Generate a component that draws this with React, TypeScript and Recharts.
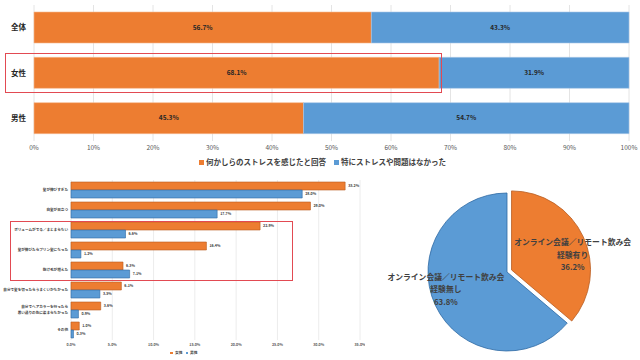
import { Bar, BarChart, CartesianGrid, Cell, LabelList, Legend, Pie, PieChart, XAxis, YAxis } from "recharts"

const ORANGE = "#ED7D31"
const BLUE = "#5B9BD5"

// top: stress by group
const groups = ["全体", "女性", "男性"]
const stressed = [56.7, 68.1, 45.3]
const noStress = [43.3, 31.9, 54.7]
const groupTicks = [0, 10, 20, 30, 40, 50, 60, 70, 80, 90, 100]
const groupSeries = ["何かしらのストレスを感じたと回答", "特にストレスや問題はなかった"]

// bottom left: hair troubles by gender
const hairIssues = [
  "髪が伸びすぎた",
  "白髪が目立つ",
  "ボリュームがでる／まとまらない",
  "髪が伸びたらプリン髪になった",
  "抜け毛が増えた",
  "自分で髪を切ったらうまくいかなかった",
  "自分でヘアカラーを行ったら\n思い通りの色に染まらなかった",
  "その他",
]
const women = [33.2, 29.0, 22.9, 16.4, 6.3, 6.1, 3.6, 1.0]
const men = [28.0, 17.7, 6.6, 1.2, 7.1, 3.5, 0.9, 0.3]
const hairTicks = [0, 5, 10, 15, 20, 25, 30, 35]
const genders = ["女性", "男性"]

// bottom right: online meetings
const pieNames = ["オンライン会議／リモート飲み会\n経験有り", "オンライン会議／リモート飲み会\n経験無し"]
const pieValues = [36.2, 63.8]

const groupData = groups.map((group, i) => ({ group, stressed: stressed[i], noStress: noStress[i] }))
const hairData = hairIssues.map((issue, i) => ({ issue, women: women[i], men: men[i] }))
const pieData = pieNames.map((name, i) => ({ name, value: pieValues[i] }))

const pct1 = (v: any) => `${Number(v).toFixed(1)}%`
const RAD = Math.PI / 180

function LegendRow({ names, colors, fontSize, box, gap, padLeft, height }: any) {
  return (
    <div style={{ display: "flex", justifyContent: "center", alignItems: "center", height, gap, paddingLeft: padLeft, fontSize, fontWeight: 700, color: "#404040", lineHeight: 1 }}>
      {names.map((n: string, i: number) => (
        <span key={n} style={{ display: "flex", alignItems: "center", gap: 2 }}>
          <span style={{ width: box, height: box, background: colors[i], display: "inline-block" }} />
          {n}
        </span>
      ))}
    </div>
  )
}

function IssueTick({ x, y, payload }: any) {
  const lines = String(payload.value).split("\n")
  return (
    <text x={x} y={y} textAnchor="end" fontSize={3.6} fill="#404040" fontWeight={600}>
      {lines.map((l, i) => (
        <tspan key={i} x={x} dy={i === 0 ? (lines.length > 1 ? -1.8 : 1.3) : 6}>
          {l}
        </tspan>
      ))}
    </text>
  )
}

const pieLabel = (shown: number) => (props: any) => {
  if (props.index !== shown) return null
  const { cx, cy, midAngle, outerRadius, name, value } = props
  const base = Math.cos(midAngle * RAD) >= 0 ? 0 : 180
  let diff = midAngle - base
  while (diff > 180) diff -= 360
  while (diff < -180) diff += 360
  const a = (base + diff * 0.6) * RAD
  const r = outerRadius * 0.8
  const x = cx + r * Math.cos(a)
  const y = cy - r * Math.sin(a)
  const lines = [...String(name).split("\n"), `${Number(value).toFixed(1)}%`]
  return (
    <text x={x} y={y} textAnchor="middle" dominantBaseline="central" fontSize={7.8} fontWeight={600} fill="#404040">
      {lines.map((l, i) => (
        <tspan key={i} x={x} dy={i === 0 ? -12.5 : 12.5}>
          {l}
        </tspan>
      ))}
    </text>
  )
}

const PIE_CX = 132
const PIE_CY = 97
const EXPLODE = 5
const firstMid = (90 - (360 * pieValues[0]) / (pieValues[0] + pieValues[1]) / 2) * RAD

const redBox = { position: "absolute" as const, border: "1.5px solid #e24a52", boxSizing: "border-box" as const, pointerEvents: "none" as const }

export default function App() {
  return (
    <div style={{ position: "absolute", left: 0, top: 0, width: 640, height: 360, background: "#fff", overflow: "hidden", fontFamily: '"Noto Sans CJK JP", "Noto Sans", sans-serif' }}>
      <div style={{ position: "absolute", left: 0, top: 0 }}>
        <BarChart width={640} height={170} data={groupData} layout="vertical" margin={{ top: 5, right: 11, bottom: 2, left: 0 }}>
          <CartesianGrid horizontal={false} stroke="#e4e4e4" />
          <XAxis type="number" domain={[0, 100]} ticks={groupTicks} interval={0} tickFormatter={(v: any) => `${v}%`} axisLine={false} tickLine={false} tickSize={3} tickMargin={1} height={15} tick={{ fontSize: 6.5, fill: "#595959" }} />
          <YAxis type="category" dataKey="group" width={34} axisLine={false} tickLine={false} tick={{ fontSize: 7.5, fill: "#262626", fontWeight: 700 }} />
          <Legend verticalAlign="bottom" wrapperStyle={{ height: 12 }} content={() => <LegendRow names={groupSeries} colors={[ORANGE, BLUE]} fontSize={7.5} box={5} gap={8} padLeft={16} height={12} />} />
          <Bar dataKey="stressed" stackId="a" fill={ORANGE} stroke="#f6b88f" strokeWidth={0.6} barSize={31} isAnimationActive={false}>
            <LabelList dataKey="stressed" position="center" formatter={pct1} style={{ fontSize: 6.5, fontWeight: 700, fill: "#262626" }} />
          </Bar>
          <Bar dataKey="noStress" stackId="a" fill={BLUE} stroke="#a9c8e8" strokeWidth={0.6} barSize={31} isAnimationActive={false}>
            <LabelList dataKey="noStress" position="center" formatter={pct1} style={{ fontSize: 6.5, fontWeight: 700, fill: "#262626" }} />
          </Bar>
        </BarChart>
      </div>

      <div style={{ position: "absolute", left: 0, top: 175 }}>
        <BarChart width={365} height={185} data={hairData} layout="vertical" barGap={0} margin={{ top: 5, right: 5, bottom: 3, left: 0 }}>
          <CartesianGrid horizontal={false} stroke="#ececec" />
          <XAxis type="number" domain={[0, 35]} ticks={hairTicks} interval={0} tickFormatter={pct1} axisLine={false} tickLine={false} tickSize={2} tickMargin={1} height={9} tick={{ fontSize: 3.6, fill: "#595959", fontWeight: 600 }} />
          <YAxis type="category" dataKey="issue" width={71} axisLine={false} tickLine={false} tickSize={2} tickMargin={1} interval={0} tick={(p: any) => <IssueTick {...p} />} />
          <Legend verticalAlign="bottom" wrapperStyle={{ height: 8 }} content={() => <LegendRow names={genders} colors={[ORANGE, BLUE]} fontSize={3.8} box={2.5} gap={3} padLeft={8} height={8} />} />
          <Bar dataKey="women" fill={ORANGE} stroke="#b85c1f" strokeWidth={0.6} barSize={8} isAnimationActive={false}>
            <LabelList dataKey="women" position="right" offset={3} formatter={pct1} style={{ fontSize: 3.6, fontWeight: 600, fill: "#404040" }} />
          </Bar>
          <Bar dataKey="men" fill={BLUE} stroke="#2f6aa3" strokeWidth={0.6} barSize={8} isAnimationActive={false}>
            <LabelList dataKey="men" position="right" offset={3} formatter={pct1} style={{ fontSize: 3.6, fontWeight: 600, fill: "#404040" }} />
          </Bar>
        </BarChart>
      </div>

      <div style={{ position: "absolute", left: 370, top: 170 }}>
        <PieChart width={270} height={190}>
          <Pie data={pieData} dataKey="value" nameKey="name" cx={PIE_CX + EXPLODE * Math.cos(firstMid)} cy={PIE_CY - EXPLODE * Math.sin(firstMid)} outerRadius={79} startAngle={90} endAngle={-270} label={pieLabel(0)} labelLine={false} isAnimationActive={false}>
            <Cell fill={ORANGE} stroke="#b85c1f" strokeWidth={0.8} />
            <Cell fill="none" stroke="none" />
          </Pie>
          <Pie data={pieData} dataKey="value" nameKey="name" cx={PIE_CX} cy={PIE_CY} outerRadius={79} startAngle={90} endAngle={-270} label={pieLabel(1)} labelLine={false} isAnimationActive={false}>
            <Cell fill="none" stroke="none" />
            <Cell fill={BLUE} stroke="#2f6aa3" strokeWidth={0.8} />
          </Pie>
        </PieChart>
      </div>

      <div style={{ ...redBox, left: 5, top: 53, width: 437, height: 40 }} />
      <div style={{ ...redBox, left: 10, top: 221, width: 283, height: 60 }} />
    </div>
  )
}
